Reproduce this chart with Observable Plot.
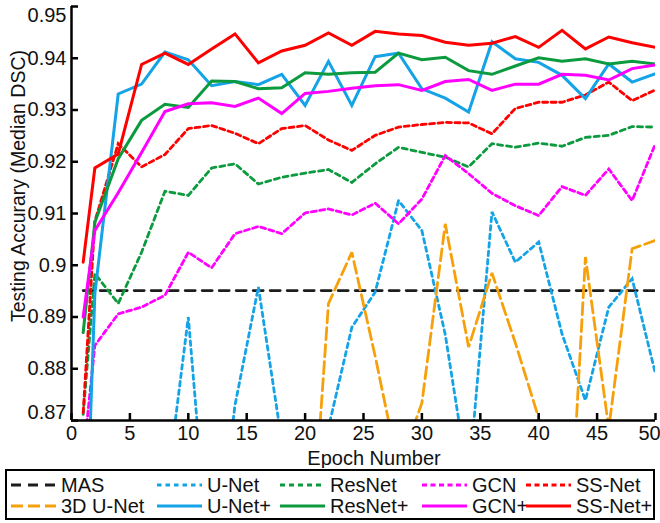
<!DOCTYPE html>
<html><head><meta charset="utf-8">
<script src="https://cdn.jsdelivr.net/npm/d3@7"></script>
<script src="https://cdn.jsdelivr.net/npm/@observablehq/plot@0.6"></script>
<style>
body{margin:0;background:#fff;font-family:Arial,"Liberation Sans",sans-serif;}
#chart{height:468px;}
#legend{position:relative;margin-left:5px;margin-top:1px;width:646px;height:47px;border:2px solid #000;}
.item{position:absolute;display:flex;align-items:center;height:22px;font-size:20px;color:#111;white-space:nowrap;}
.item svg{margin-right:4px;}
</style></head><body>
<div id="chart"></div>
<div id="legend"></div>
<script>
// ---- data ----
const epochs = [1,2,4,6,8,10,12,14,16,18,20,22,24,26,28,30,32,34,36,38,40,42,44,46,48,50];
const masEpochs = [1, 50];
const mas = [0.8951, 0.8951];
const uNet = [0.80,0.82,0.84,0.85,0.854,0.890,0.836,0.873,0.8958,0.866,0.855,0.8686,0.888,0.8948,0.9125,0.9067,0.8866,0.858,0.9103,0.9006,0.9045,0.8867,0.8739,0.8919,0.8974,0.879];
const resNet = [0.8712,0.8984,0.8926,0.9025,0.9143,0.9135,0.9188,0.9196,0.9157,0.9170,0.9178,0.9185,0.9160,0.9196,0.9228,0.9218,0.9209,0.9190,0.9235,0.9228,0.9236,0.9230,0.9247,0.9251,0.9268,0.9267];
const gcn = [0.8627,0.8845,0.8906,0.8919,0.8942,0.9025,0.8995,0.9061,0.9075,0.9061,0.9101,0.9109,0.9097,0.9120,0.9080,0.9128,0.9212,0.9177,0.9139,0.9115,0.9096,0.9152,0.9135,0.9186,0.9125,0.9235];
const ssNet = [0.8715,0.9085,0.9235,0.9190,0.9214,0.9264,0.9270,0.9255,0.9235,0.9264,0.9270,0.9242,0.9222,0.9251,0.9267,0.9272,0.9276,0.9275,0.9254,0.9303,0.9315,0.9315,0.9329,0.9354,0.9318,0.9339];
const uNet3d = [0.75,0.78,0.80,0.81,0.82,0.82,0.83,0.83,0.83,0.83,0.828,0.8926,0.9025,0.8824,0.8607,0.8734,0.9080,0.8842,0.8985,0.8850,0.8705,0.820,0.9016,0.8685,0.9032,0.9048];
const uNetPlus = [0.830,0.8945,0.9331,0.9350,0.9412,0.9397,0.9347,0.9355,0.9349,0.9369,0.9309,0.9394,0.9309,0.9403,0.9410,0.9341,0.9323,0.9296,0.9432,0.9399,0.9392,0.9367,0.9322,0.9389,0.9354,0.9370];
const resNetPlus = [0.887,0.9083,0.9206,0.9280,0.9311,0.9305,0.9356,0.9355,0.9341,0.9343,0.9372,0.9369,0.9372,0.9373,0.9410,0.9397,0.9402,0.9376,0.9369,0.9385,0.9401,0.9394,0.9399,0.9389,0.9394,0.9389];
const gcnPlus = [0.8900,0.9067,0.9140,0.9218,0.9297,0.9312,0.9314,0.9307,0.9323,0.9293,0.9332,0.9336,0.9342,0.9347,0.9349,0.9338,0.9355,0.9359,0.9338,0.9350,0.9350,0.9369,0.9367,0.9358,0.9380,0.9387];
const ssNetPlus = [0.9006,0.9188,0.9215,0.9388,0.9410,0.9388,0.9418,0.9447,0.9391,0.9414,0.9425,0.9449,0.9425,0.9452,0.9447,0.9444,0.9431,0.9425,0.9429,0.9442,0.9421,0.9454,0.9418,0.9441,0.9430,0.9421];
const xTicks = [0,5,10,15,20,25,30,35,40,45,50];
const yTicks = [0.87,0.88,0.89,0.90,0.91,0.92,0.93,0.94,0.95];
const yTickLabels = ["0.87","0.88","0.89","0.9","0.91","0.92","0.93","0.94","0.95"];

// ---- styles ----
const seriesList = [
  {name:"MAS",      xs: masEpochs, ys: mas,        color:"#1c1c1c", dash:"10,7"},
  {name:"U-Net",    xs: epochs,    ys: uNet,       color:"#14a3e6", dash:"4.5,4"},
  {name:"ResNet",   xs: epochs,    ys: resNet,     color:"#0b9a3e", dash:"5,4"},
  {name:"GCN",      xs: epochs,    ys: gcn,        color:"#ff00ff", dash:"5,3.5"},
  {name:"SS-Net",   xs: epochs,    ys: ssNet,      color:"#ff0000", dash:"5,3.5"},
  {name:"3D U-Net", xs: epochs,    ys: uNet3d,     color:"#f6a00c", dash:"12,5"},
  {name:"U-Net+",   xs: epochs,    ys: uNetPlus,   color:"#14a3e6", dash:null},
  {name:"ResNet+",  xs: epochs,    ys: resNetPlus, color:"#0b9a3e", dash:null},
  {name:"GCN+",     xs: epochs,    ys: gcnPlus,    color:"#ff00ff", dash:null},
  {name:"SS-Net+",  xs: epochs,    ys: ssNetPlus,  color:"#ff0000", dash:null}
];

const W = 660, H = 468, mL = 71, mR = 5, mT = 6, mB = 48;
const lineMarks = seriesList.map(s => {
  const rows = s.xs.map((x, i) => ({x, y: s.ys[i]}));
  return Plot.line(rows, {x: "x", y: "y", stroke: s.color, strokeWidth: s.dash ? 2.8 : 3,
    strokeDasharray: s.dash || undefined, clip: true, strokeLinejoin: "miter", strokeMiterlimit: 3});
});

const yMid = yTicks.filter(t => t > 0.871 && t < 0.949);
const xMain = xTicks.slice(0, -1);
const xLast = xTicks.slice(-1);
const fmtY = d => yTickLabels[yTicks.indexOf(d)];
const font = 'Arial, "Liberation Sans", sans-serif';

const plot = Plot.plot({
  width: W, height: H,
  marginLeft: mL, marginRight: mR, marginTop: mT, marginBottom: mB,
  style: {fontFamily: font, fontSize: "20px", color: "#111", background: "#fff"},
  x: {domain: [0, 50]},
  y: {domain: [0.87, 0.95]},
  marks: [
    ...lineMarks,
    Plot.ruleX([0], {stroke: "#000", strokeWidth: 2.5}),
    Plot.ruleY([0.87], {stroke: "#000", strokeWidth: 2.5}),
    Plot.tickX(xTicks, {x: d => d, stroke: "#000", strokeWidth: 2.5, insetTop: (H - mT - mB) - 7}),
    Plot.tickY(yTicks, {y: d => d, stroke: "#000", strokeWidth: 2.5, insetRight: (W - mL - mR) - 7}),
    Plot.axisX(xMain, {tickSize: 0, tickPadding: 5, fontSize: 20, label: null, tickFormat: d => String(d)}),
    Plot.axisX(xLast, {tickSize: 0, tickPadding: 5, fontSize: 20, label: null, tickFormat: d => String(d), dx: -6}),
    Plot.axisY(yMid, {tickSize: 0, tickPadding: 5, fontSize: 20, label: null, tickFormat: fmtY}),
    Plot.axisY([0.95], {tickSize: 0, tickPadding: 5, fontSize: 20, label: null, tickFormat: fmtY, dy: 9}),
    Plot.axisY([0.87], {tickSize: 0, tickPadding: 5, fontSize: 20, label: null, tickFormat: fmtY, dy: -8})
  ]
});

const svg = d3.select(plot);
svg.append("text")
  .attr("transform", "translate(25,186) rotate(-90)")
  .attr("text-anchor", "middle")
  .attr("font-size", 19.5).attr("fill", "#111")
  .text("Testing Accurary (Median DSC)");
svg.append("text")
  .attr("x", 374).attr("y", 465)
  .attr("text-anchor", "middle")
  .attr("font-size", 20).attr("fill", "#111")
  .text("Epoch Number");
document.getElementById("chart").appendChild(plot);

// ---- legend ----
const legendColsX = [3, 149, 272, 414, 518];
const legendRowsY = [3, 24];
const legend = document.getElementById("legend");
seriesList.forEach((s, i) => {
  const col = i % 5, row = Math.floor(i / 5);
  const div = document.createElement("div");
  div.className = "item";
  div.style.left = legendColsX[col] + "px";
  div.style.top = legendRowsY[row] + "px";
  const sw = d3.create("svg").attr("width", 47).attr("height", 12);
  sw.append("line").attr("x1", 1).attr("x2", 46).attr("y1", 6).attr("y2", 6)
    .attr("stroke", s.color).attr("stroke-width", 3)
    .attr("stroke-dasharray", s.dash || null);
  div.appendChild(sw.node());
  const t = document.createElement("span");
  t.textContent = s.name;
  div.appendChild(t);
  legend.appendChild(div);
});
</script>
</body></html>
